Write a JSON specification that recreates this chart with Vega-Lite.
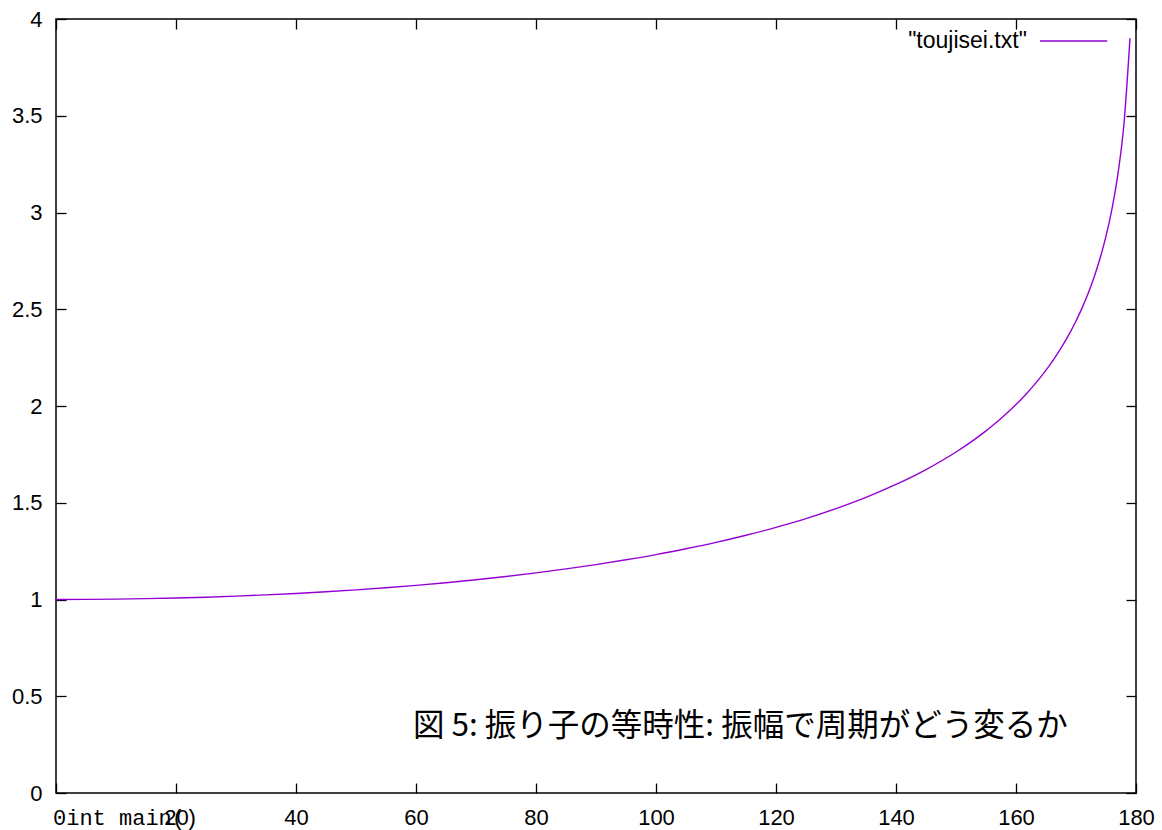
{
  "$schema": "https://vega.github.io/schema/vega-lite/v6.json",
  "width": 1080,
  "height": 774,
  "autosize": "none",
  "padding": {"left": 56, "top": 19, "right": 26, "bottom": 37},
  "background": "white",
  "config": {
    "view": {"stroke": "black", "strokeWidth": 1.5},
    "axis": {"labelFont": "Liberation Sans", "labelFontSize": 22, "labelColor": "black", "tickColor": "black", "tickWidth": 1.3, "domain": false, "grid": false, "title": null}
  },
  "resolve": {"axis": {"x": "independent", "y": "independent"}},
  "layer": [
    {
      "data": {"values": [
        {"amp": 0, "ratio": 1.0},
        {"amp": 5, "ratio": 1.0005},
        {"amp": 10, "ratio": 1.0019},
        {"amp": 15, "ratio": 1.0043},
        {"amp": 20, "ratio": 1.0077},
        {"amp": 25, "ratio": 1.0120},
        {"amp": 30, "ratio": 1.0174},
        {"amp": 35, "ratio": 1.0238},
        {"amp": 40, "ratio": 1.0313},
        {"amp": 45, "ratio": 1.0400},
        {"amp": 50, "ratio": 1.0498},
        {"amp": 55, "ratio": 1.0608},
        {"amp": 60, "ratio": 1.0732},
        {"amp": 65, "ratio": 1.0869},
        {"amp": 70, "ratio": 1.1021},
        {"amp": 75, "ratio": 1.1190},
        {"amp": 80, "ratio": 1.1375},
        {"amp": 85, "ratio": 1.1582},
        {"amp": 90, "ratio": 1.1803},
        {"amp": 95, "ratio": 1.2052},
        {"amp": 100, "ratio": 1.2322},
        {"amp": 105, "ratio": 1.2625},
        {"amp": 110, "ratio": 1.2953},
        {"amp": 115, "ratio": 1.3320},
        {"amp": 120, "ratio": 1.3729},
        {"amp": 125, "ratio": 1.4181},
        {"amp": 130, "ratio": 1.4698},
        {"amp": 135, "ratio": 1.5279},
        {"amp": 140, "ratio": 1.5944},
        {"amp": 145, "ratio": 1.6714},
        {"amp": 150, "ratio": 1.7622},
        {"amp": 153, "ratio": 1.8252},
        {"amp": 155, "ratio": 1.8715},
        {"amp": 156, "ratio": 1.8963},
        {"amp": 157, "ratio": 1.9221},
        {"amp": 158, "ratio": 1.9492},
        {"amp": 159, "ratio": 1.9776},
        {"amp": 160, "ratio": 2.0075},
        {"amp": 161, "ratio": 2.0390},
        {"amp": 162, "ratio": 2.0725},
        {"amp": 163, "ratio": 2.1078},
        {"amp": 164, "ratio": 2.1453},
        {"amp": 165, "ratio": 2.1854},
        {"amp": 166, "ratio": 2.2285},
        {"amp": 167, "ratio": 2.2747},
        {"amp": 168, "ratio": 2.3248},
        {"amp": 169, "ratio": 2.3794},
        {"amp": 170, "ratio": 2.4393},
        {"amp": 171, "ratio": 2.5058},
        {"amp": 172, "ratio": 2.5801},
        {"amp": 173, "ratio": 2.6645},
        {"amp": 174, "ratio": 2.7621},
        {"amp": 175, "ratio": 2.8776},
        {"amp": 176, "ratio": 3.0193},
        {"amp": 177, "ratio": 3.2018},
        {"amp": 178, "ratio": 3.4598},
        {"amp": 179, "ratio": 3.9010}
      ]},
      "mark": {"type": "line", "color": "#9400D3", "strokeWidth": 1.4, "interpolate": "monotone"},
      "encoding": {
        "x": {"field": "amp", "type": "quantitative", "scale": {"domain": [0, 180], "nice": false, "zero": false},
          "axis": {"orient": "bottom", "values": [0, 20, 40, 60, 80, 100, 120, 140, 160, 180], "tickSize": -10, "labelPadding": 24, "labelExpr": "datum.value == 0 ? '' : datum.label", "labelFlush": false}},
        "y": {"field": "ratio", "type": "quantitative", "scale": {"domain": [0, 4], "nice": false, "zero": false},
          "axis": {"orient": "left", "values": [0, 0.5, 1, 1.5, 2, 2.5, 3, 3.5, 4], "format": ".1~f", "tickSize": -10, "labelPadding": 24, "labelFlush": false}}
      }
    },
    {
      "data": {"values": [{"x1": 164, "x2": 175.2, "y": 3.886}]},
      "mark": {"type": "rule", "color": "#9400D3", "strokeWidth": 1.4},
      "encoding": {
        "x": {"field": "x1", "type": "quantitative",
          "axis": {"orient": "top", "values": [0, 20, 40, 60, 80, 100, 120, 140, 160, 180], "tickSize": -10, "labels": false}},
        "x2": {"field": "x2"},
        "y": {"field": "y", "type": "quantitative",
          "axis": {"orient": "right", "values": [0, 0.5, 1, 1.5, 2, 2.5, 3, 3.5, 4], "tickSize": -10, "labels": false}}
      }
    },
    {
      "data": {"values": [{"x": 161.8, "y": 3.886, "label": "\"toujisei.txt\""}]},
      "mark": {"type": "text", "align": "right", "baseline": "middle", "font": "Liberation Sans", "fontSize": 23, "color": "black"},
      "encoding": {
        "x": {"field": "x", "type": "quantitative", "axis": null},
        "y": {"field": "y", "type": "quantitative", "axis": null},
        "text": {"field": "label"}
      }
    },
    {
      "data": {"values": [{"x": 59.5, "y": 0.34, "label": "図 5: 振り子の等時性: 振幅で周期がどう変るか"}]},
      "mark": {"type": "text", "align": "left", "baseline": "middle", "font": "Noto Sans CJK JP", "fontSize": 31.5, "color": "black"},
      "encoding": {
        "x": {"field": "x", "type": "quantitative", "axis": null},
        "y": {"field": "y", "type": "quantitative", "axis": null},
        "text": {"field": "label"}
      }
    },
    {
      "data": {"values": [{"x": -0.5, "y": -0.13, "label": "0int main()"}]},
      "mark": {"type": "text", "align": "left", "baseline": "middle", "font": "Liberation Mono", "fontSize": 22, "color": "black"},
      "encoding": {
        "x": {"field": "x", "type": "quantitative", "axis": null},
        "y": {"field": "y", "type": "quantitative", "axis": null},
        "text": {"field": "label"}
      }
    }
  ]
}
